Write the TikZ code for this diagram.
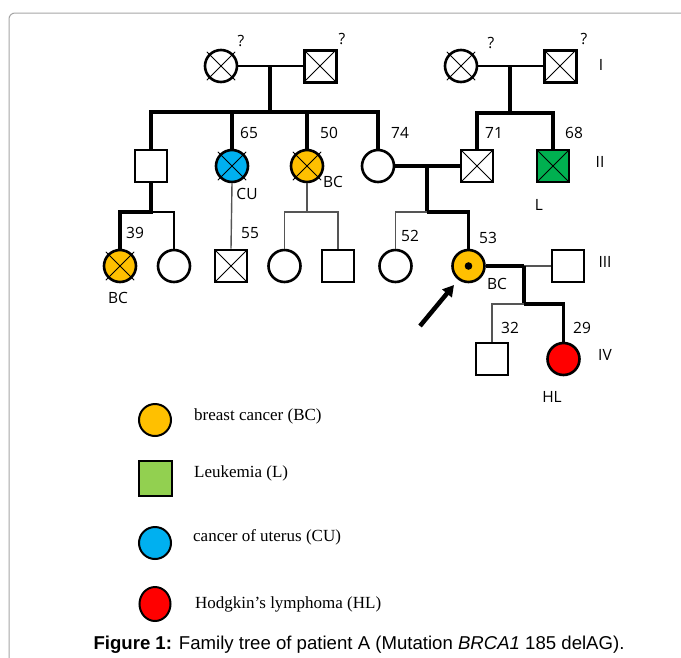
\documentclass[tikz,border=0pt]{standalone}
\usepackage{fontspec}
\usetikzlibrary{arrows.meta,shapes.geometric}
\newfontfamily\labfont{Open Sans}
\newfontfamily\legfont{Liberation Serif}
\newfontfamily\capfont{Liberation Sans}
\definecolor{bcorange}{HTML}{FFC000}
\definecolor{cublue}{HTML}{00B0F0}
\definecolor{lgreen}{HTML}{00B050}
\definecolor{leggreen}{HTML}{92D050}
\definecolor{hlred}{HTML}{FF0000}
\definecolor{thingray}{HTML}{555555}
\tikzset{
  fem/.style={circle, draw, line width=2.6pt, minimum size=32pt, inner sep=0pt},
  mal/.style={rectangle, draw, line width=2.6pt, minimum size=32pt, inner sep=0pt},
  sqx/.style={path picture={\draw[line width=1pt] (path picture bounding box.south west) -- (path picture bounding box.north east) (path picture bounding box.north west) -- (path picture bounding box.south east);}},
  boldl/.style={line width=3.2pt},
  thinl/.style={line width=1.4pt, thingray},
  lab/.style={font=\labfont\fontsize{15.5}{18}\selectfont, inner sep=0pt},
  leg/.style={font=\legfont\fontsize{17}{20}\selectfont, inner sep=0pt, anchor=west},
}
\newcommand{\crossc}[1]{\draw[line width=1pt] (#1.center) ++(45:20) -- ++(225:40) (#1.center) ++(135:20) -- ++(-45:40);}
\begin{document}
\begin{tikzpicture}[x=1pt,y=-1pt]
\useasboundingbox (0,0) rectangle (681,657);
\fill[white] (0,0) rectangle (681,657);
\draw[gray!70, line width=1pt, rounded corners=6pt] (9,13) rectangle (720,700);

% Generation I
\node[fem] (f1) at (221,66) {};
\node[mal, sqx, line width=3pt] (m1) at (320,66) {};
\node[fem] (f2) at (461,66) {};
\node[mal, sqx, line width=3pt] (m2) at (560,66) {};
\crossc{f1}
\crossc{f2}
\coordinate (u1) at (270,66);
\coordinate (s1) at (270,112);
\coordinate (u2) at (510,66);
\coordinate (s2) at (510,113);
\draw[line width=1.6pt] (f1) -- (m1);
\draw[line width=1.6pt] (f2) -- (m2);
\draw[boldl] (u1) -- (s1);
\draw[boldl] (u2) -- (s2);
\node[lab] (q1) at (241,41) {?};
\node[lab] (q2) at (342,39) {?};
\node[lab] (q3) at (491,43) {?};
\node[lab] (q4) at (584,39) {?};
\node[lab] (gI) at (601,65) {I};

% Generation II
\node[mal] (a1) at (151,166) {};
\node[fem, fill=cublue] (a2) at (232,166) {};
\node[fem, fill=bcorange] (a3) at (307,166) {};
\node[fem] (a4) at (378,166) {};
\node[mal, sqx] (b1) at (477,166) {};
\node[mal, sqx, fill=lgreen] (b2) at (553,166) {};
\crossc{a2}
\crossc{a3}
\draw[boldl] (a1.north) |- (a4.north |- s1) -- (a4.north);
\draw[boldl] (a2.north) -- (a2.north |- s1);
\draw[boldl] (a3.north) -- (a3.north |- s1);
\draw[boldl] (b1.north) |- (b2.north |- s2) -- (b2.north);
\node[lab] (n65) at (249,133) {65};
\node[lab] (n50) at (329,133) {50};
\node[lab] (n74) at (400,133) {74};
\node[lab] (n71) at (494,133) {71};
\node[lab] (n68) at (574,133) {68};
\node[lab] (cu1) at (247,194) {CU};
\node[lab] (bc1) at (333,182) {BC};
\node[lab] (l1) at (539,205) {L};
\node[lab] (gII) at (600,162) {II};
\coordinate (u3) at (427,166);
\coordinate (s3) at (427,212);
\draw[boldl] (a4) -- (b1);
\draw[boldl] (u3) -- (s3);

% Generation III
\node[fem, fill=bcorange] (c1) at (120,266) {};
\node[fem] (c2) at (174,266) {};
\node[mal, sqx] (c3) at (231,266) {};
\node[fem] (c4) at (284.5,266) {};
\node[mal] (c5) at (338,266) {};
\node[fem] (c6) at (395.5,266) {};
\node[fem, fill=bcorange] (c7) at (468.5,266) {};
\node[mal] (c8) at (568,266) {};
\crossc{c1}
\fill (c7.center) circle (3.8pt);
\coordinate (s4) at (151,212);
\draw[boldl] (a1.south) -- (s4) -| (c1.north);
\draw[thinl, black] (s4) -| (c2.north);
\draw[thinl] (a2.south) -- (c3.north);
\coordinate (s5) at (307,212);
\draw[thinl] (a3.south) -- (s5);
\draw[thinl] (c4.north) |- (c5.north |- s5) -- (c5.north);
\draw[boldl] (s3) -| (c7.north);
\draw[thinl] (s3) -| (c6.north);
\node[lab] (n39) at (135,233) {39};
\node[lab] (bc2) at (118,298) {BC};
\node[lab] (n55) at (250,233) {55};
\node[lab] (n52) at (410,236) {52};
\node[lab] (n53) at (488,238) {53};
\node[lab] (bc3) at (497,284) {BC};
\node[lab] (gIII) at (605,262) {III};
\coordinate (u4) at (524,266);
\coordinate (s6) at (524,304);
\draw[boldl] (c7) -- (u4);
\draw[thinl] (u4) -- (c8);
\draw[boldl] (u4) -- (s6);
\coordinate (arrS) at (420,326);
\coordinate (arrE) at (454,285);
\draw[line width=4.5pt, -{Triangle[length=11pt,width=12pt]}] (arrS) -- (arrE);

% Generation IV
\node[mal] (d1) at (492,359) {};
\node[fem, fill=hlred] (d2) at (563.5,359) {};
\draw[thinl] (s6) -| (d1.north);
\draw[boldl] (s6) -| (d2.north);
\node[lab] (n32) at (510,328) {32};
\node[lab] (n29) at (582,328) {29};
\node[lab] (gIV) at (605,355) {IV};
\node[lab] (hl) at (552,397) {HL};

% Legend
\node[fem, line width=2pt, fill=bcorange] (k1) at (155,420) {};
\node[mal, line width=2pt, fill=leggreen, minimum width=33pt, minimum height=35pt] (k2) at (155,478) {};
\node[fem, line width=2pt, fill=cublue] (k3) at (155,543) {};
\node[ellipse, draw, line width=2pt, fill=hlred, minimum width=31pt, minimum height=34pt, inner sep=0pt] (k4) at (155,604) {};
\node[leg] (t1) at (194,416) {breast cancer (BC)};
\node[leg] (t2) at (194,473) {Leukemia (L)};
\node[leg] (t3) at (193,537) {cancer of uterus (CU)};
\node[leg] (t4) at (195,604) {Hodgkin’s lymphoma (HL)};

% Caption
\node[font=\capfont\fontsize{18.6}{21}\selectfont, inner sep=0pt] (cap) at (359,645) {\textbf{Figure 1:} Family tree of patient A (Mutation \textit{BRCA1} 185 delAG).};
\end{tikzpicture}
\end{document}
